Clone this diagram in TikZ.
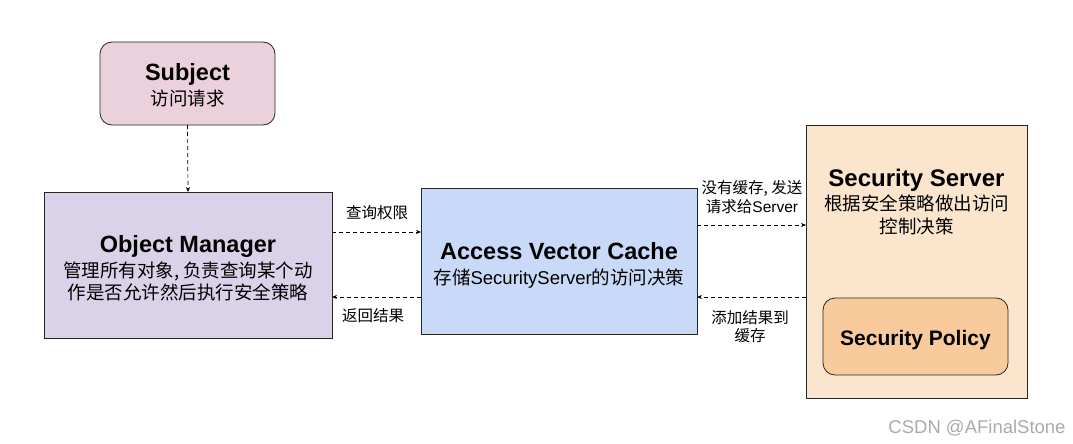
\documentclass[tikz,border=0pt]{standalone}
\usepackage{fontspec}
\setmainfont{Liberation Sans}
\newfontfamily\cjk{Noto Sans CJK SC}
\usetikzlibrary{arrows.meta}
\definecolor{subjfill}{HTML}{EAD1DC}
\definecolor{omfill}{HTML}{D9D2E9}
\definecolor{avcfill}{HTML}{C9DAF8}
\definecolor{ssfill}{HTML}{FCE5CD}
\definecolor{spfill}{HTML}{F9CB9C}
\begin{document}
\begin{tikzpicture}[x=1pt,y=-1pt,
  box/.style={draw=black!85, line width=0.8pt, inner sep=0pt, outer sep=0pt},
  title/.style={font=\fontsize{23.5}{26}\selectfont\bfseries, inner sep=0pt, anchor=base},
  sub/.style={font=\fontsize{18.5}{22.5}\selectfont\cjk, align=center, inner sep=0pt, anchor=base},
  lab/.style={font=\fontsize{15.5}{18.5}\selectfont\cjk, align=center, inner sep=0pt, anchor=base},
  conn/.style={line width=0.7pt, dash pattern=on 4pt off 3pt, -{Stealth[length=5pt,width=4pt]}}]
\useasboundingbox (0,0) rectangle (1073,444);
\fill[white] (0,0) rectangle (1073,444);
% boxes
\node[box, rounded corners=12pt, fill=subjfill, minimum width=175pt, minimum height=83pt] (subj) at (187.5,83.5) {};
\node[box, fill=omfill, minimum width=288pt, minimum height=146pt] (om) at (188,265) {};
\node[box, fill=avcfill, minimum width=276pt, minimum height=146pt] (avc) at (559,261) {};
\node[box, fill=ssfill, minimum width=221pt, minimum height=273pt] (ss) at (916.5,261.5) {};
\node[box, rounded corners=12pt, fill=spfill, minimum width=185pt, minimum height=77pt] (sp) at (915.5,336.5) {};
% texts
\node[title] (subjt) at (187.5,81) {Subject};
\node[sub] (subjs) at (187.5,105) {访问请求};
\node[title] (omt) at (188,252) {Object Manager};
\node[sub, font=\fontsize{18.5}{22}\selectfont\cjk] (oms) at (188,299) {管理所有对象, 负责查询某个动\\作是否允许然后执行安全策略};
\node[title] (avct) at (559,259) {Access Vector Cache};
\node[sub, font=\fontsize{18.5}{22}\selectfont] (avcs) at (559,284) {{\cjk 存储}SecurityServer{\cjk 的访问决策}};
\node[title, font=\fontsize{24}{26}\selectfont\bfseries] (sst) at (916.5,186) {Security Server};
\node[sub, font=\fontsize{18.5}{23}\selectfont\cjk] (sss) at (916.5,233) {根据安全策略做出访问\\控制决策};
\node[title, font=\fontsize{21}{24}\selectfont\bfseries] (spt) at (915.5,345) {Security Policy};
% connectors
\draw[conn] (subj.south) -- (om.north);
\draw[conn] (om.east |- 0,232) -- (avc.west |- 0,232);
\draw[conn] (avc.west |- 0,297) -- (om.east |- 0,297);
\draw[conn] (avc.east |- 0,225) -- (ss.west |- 0,225);
\draw[conn] (ss.west |- 0,297) -- (avc.east |- 0,297);
% connector labels
\node[lab] (l1) at (377,218) {查询权限};
\node[lab] (l2) at (373,321) {返回结果};
\node[lab, font=\fontsize{15.5}{19}\selectfont] (l3) at (752,212) {{\cjk 没有缓存, 发送}\\{\cjk 请求给}Server};
\node[lab, font=\fontsize{15.5}{18}\selectfont\cjk] (l4) at (750,341) {添加结果到\\缓存};
% watermark
\node[inner sep=0pt, anchor=base, text=black!33, font=\fontsize{18.5}{20}\selectfont] (wm) at (977,433) {CSDN @AFinalStone};
\end{tikzpicture}
\end{document}
